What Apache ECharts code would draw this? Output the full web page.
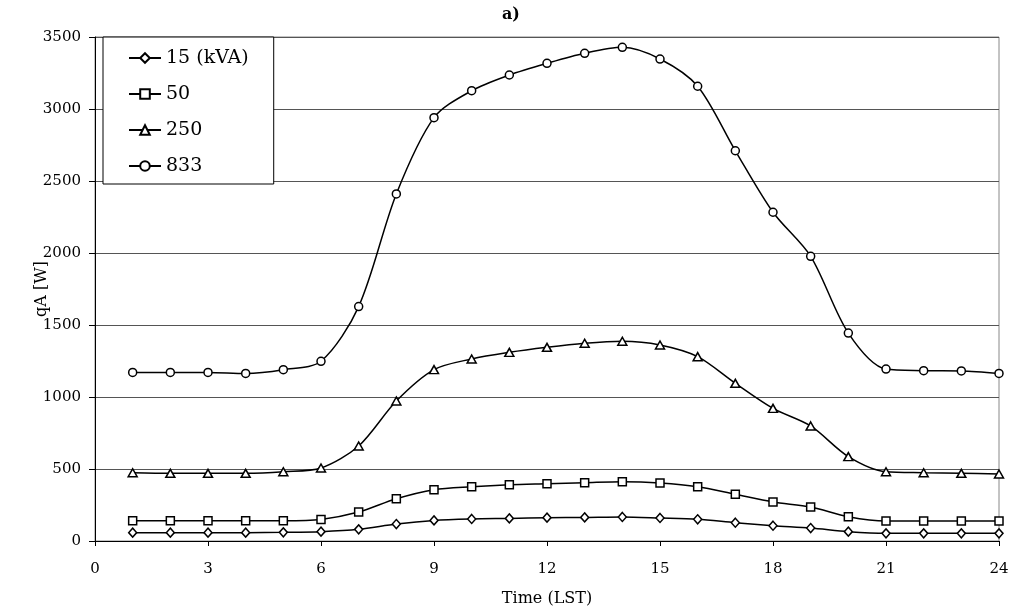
<!DOCTYPE html>
<html>
<head>
<meta charset="utf-8">
<script src="https://cdn.jsdelivr.net/npm/echarts@6/dist/echarts.min.js"></script>
<style>html,body{margin:0;padding:0;background:#fff;}#c{width:1013px;height:613px;}</style>
</head>
<body>
<div id="c"></div>
<script>
var hours = [1,2,3,4,5,6,7,8,9,10,11,12,13,14,15,16,17,18,19,20,21,22,23,24];
var seriesNames = ['15 (kVA)', '50', '250', '833'];
var q15 = [58,58,58,58,60,65,81,118,143,153,157,162,164,167,160,151,127,106,90,65,53,53,53,53];
var q50 = [141,141,141,141,141,150,201,293,356,377,391,398,405,412,403,377,324,271,236,169,139,139,139,139];
var q250 = [474,470,470,470,481,507,660,972,1190,1264,1310,1345,1373,1387,1361,1280,1095,921,799,586,481,474,470,465];
var q833 = [1171,1171,1171,1164,1190,1248,1628,2410,2940,3127,3236,3317,3387,3428,3347,3158,2710,2283,1977,1444,1194,1183,1181,1164];
var xTicks = [0,3,6,9,12,15,18,21,24];
var yTicks = [0,500,1000,1500,2000,2500,3000,3500];

var FONT = 'DejaVu Serif';
function pts(arr){ return hours.map(function(h,i){ return [h, arr[i]]; }); }
var symbols = ['diamond','rect','triangle','circle'];
var sizes = [[8,9],8,[9,8],8];
var all = [q15,q50,q250,q833];

var chart = echarts.init(document.getElementById('c'), null, {renderer:'canvas'});
chart.setOption({
  animation: false,
  backgroundColor: '#fff',
  title: {
    text: 'a)', left: 497, top: 2,
    textStyle: {fontFamily: FONT, fontSize: 16, fontWeight: 'bold', color: '#000'}
  },
  grid: {left: 95, right: 14, top: 37, bottom: 72, show: true, borderColor: '#888', borderWidth: 1, backgroundColor: 'transparent'},
  legend: {
    orient: 'vertical', left: 103, top: 37,
    padding: [11, 25, 8, 25],
    backgroundColor: '#fff', borderColor: '#000', borderWidth: 1,
    itemWidth: 32, itemHeight: 12, itemGap: 16,
    textStyle: {fontFamily: FONT, fontSize: 19, color: '#000', lineHeight: 20},
    data: seriesNames
  },
  xAxis: {
    type: 'value', min: 0, max: 24, interval: 3,
    name: 'Time (LST)', nameLocation: 'middle', nameGap: 50,
    nameTextStyle: {fontFamily: FONT, fontSize: 16, color: '#000'},
    axisLine: {show: true, onZero: false, lineStyle: {color: '#000', width: 1}},
    axisTick: {show: true, inside: false, length: 5, lineStyle: {color: '#000'}},
    axisLabel: {fontFamily: FONT, fontSize: 15, color: '#000', margin: 21,
      formatter: function(v){ return xTicks.indexOf(v) >= 0 ? String(v) : ''; }},
    splitLine: {show: false}
  },
  yAxis: {
    type: 'value', min: 0, max: 3500, interval: 500,
    name: 'qA [W]', nameLocation: 'middle', nameGap: 45, nameRotate: 90,
    nameMoveOverlap: false,
    nameTextStyle: {fontFamily: FONT, fontSize: 16, color: '#000'},
    axisLine: {show: true, lineStyle: {color: '#000', width: 1}},
    axisTick: {show: true, inside: false, length: 6, lineStyle: {color: '#000'}},
    axisLabel: {fontFamily: FONT, fontSize: 15, color: '#000', margin: 14,
      formatter: function(v){ return yTicks.indexOf(v) >= 0 ? String(v) : ''; }},
    splitLine: {show: true, lineStyle: {color: '#555', width: 1}}
  },
  series: seriesNames.map(function(n, i){
    return {
      name: n, type: 'line', data: pts(all[i]), smooth: 0.3,
      symbol: symbols[i], symbolSize: sizes[i], showAllSymbol: true,
      lineStyle: {color: '#000', width: 1.5},
      itemStyle: {color: '#fff', borderColor: '#000', borderWidth: 1.5},
      z: 3 + i
    };
  })
});
</script>
</body>
</html>
